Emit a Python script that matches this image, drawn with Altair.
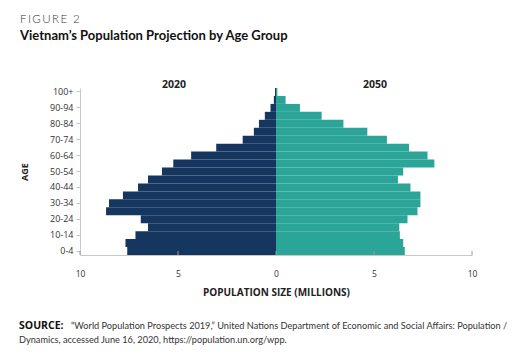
import altair as alt
import pandas as pd

ages = ["0-4", "5-9", "10-14", "15-19", "20-24", "25-29", "30-34", "35-39", "40-44", "45-49",
        "50-54", "55-59", "60-64", "65-69", "70-74", "75-79", "80-84", "85-89", "90-94", "95-99", "100+"]
pop_2020 = [7.59, 7.68, 7.17, 6.53, 6.90, 8.67, 8.52, 7.81, 7.04, 6.53,
            5.82, 5.24, 4.33, 3.05, 1.70, 1.13, 0.87, 0.57, 0.28, 0.11, 0.05]
pop_2050 = [6.57, 6.49, 6.32, 6.29, 6.71, 7.22, 7.37, 7.37, 6.86, 6.22,
            6.49, 8.08, 7.73, 6.79, 5.66, 4.66, 3.44, 2.33, 1.22, 0.49, 0.07]
years = ["2020", "2050"]
labeled_ages = ages[::2]
x_ticks = [-10, -5, 0, 5, 10]

NAVY = "#15375f"
TEAL = "#2ba597"
FONT = "Lato"
FONT2 = "Open Sans"

rows = []
for a, v1, v2 in zip(ages, pop_2020, pop_2050):
    rows.append({"age": a, "year": years[0], "signed": -v1})
    rows.append({"age": a, "year": years[1], "signed": v2})
df = pd.DataFrame(rows)

W, H = 392, 167

bars = alt.Chart(df).mark_bar(stroke=None).encode(
    x=alt.X("signed:Q", stack=None,
            scale=alt.Scale(domain=[-10, 10], nice=False, zero=False),
            axis=alt.Axis(values=x_ticks, labelExpr="abs(datum.value)", ticks=False, grid=False,
                          labelFlush=False,
                          title="POPULATION SIZE (MILLIONS)", domainColor="#c8c8c8",
                          labelPadding=14, labelFontSize=8.5, labelColor="#333333", labelFont=FONT2,
                          titleFont=FONT2, titleFontSize=10, titleFontWeight="bold", titleColor="#222222",
                          titlePadding=10)),
    y=alt.Y("age:N", sort=ages[::-1],
            scale=alt.Scale(paddingInner=0, paddingOuter=0),
            axis=alt.Axis(values=labeled_ages, title=None, grid=False, tickSize=4, tickColor="#c8c8c8",
                          domainColor="#c8c8c8", labelPadding=3, labelFontSize=9,
                          labelColor="#333333", labelFont=FONT2)),
    color=alt.Color("year:N", scale=alt.Scale(domain=years, range=[NAVY, TEAL]), legend=None),
)

tick_df = pd.DataFrame({"t": x_ticks})
ticks = alt.Chart(tick_df).mark_rule(color="#9a9a9a", strokeWidth=1).encode(
    x="t:Q", y=alt.value(H), y2=alt.value(H - 4)
)

def label(text, x, y, size, weight="normal", align="left", angle=0, color="#222222",
          baseline="middle", font=FONT):
    return alt.Chart(pd.DataFrame({"t": [text]})).mark_text(
        font=font, fontSize=size, fontWeight=weight, align=align, baseline=baseline,
        angle=angle, color=color
    ).encode(x=alt.value(x), y=alt.value(y), text="t:N")

T = "\u2009"
texts = [
    label(T.join("FIGURE") + "\u2002" + "2", -60, -68, 11.5, color="#333333", weight=300),
    label("Vietnam\u2019s Population Projection by Age Group", -60, -52, 13, weight="bold", color="#111111"),
    label("2020", 94, -3, 10.5, weight="bold", align="center", font=FONT2),
    label("2050", 295, -3, 10.5, weight="bold", align="center", font=FONT2),
    label("AGE", -55, 84, 9, weight="bold", align="center", angle=270, font=FONT2),
    label("SOURCE:", -61, 238, 10.5, weight="bold", color="#111111", font=FONT2),
    label("\u201cWorld Population Prospects 2019,\u201d United Nations Department of Economic and Social Affairs: Population /",
          -9, 238, 9.2, color="#333333"),
    label("Dynamics, accessed June 16, 2020, https://population.un.org/wpp.", -61, 252, 9.2, color="#333333"),
]

chart = alt.layer(bars, ticks, *texts).properties(
    width=W, height=H,
    autosize=alt.AutoSizeParams(type="none"),
    padding={"left": 72, "top": 80, "right": 43, "bottom": 96},
    background="white",
).configure_view(stroke=None)

chart.save("out.html", embed_options={"renderer": "svg", "actions": False})
